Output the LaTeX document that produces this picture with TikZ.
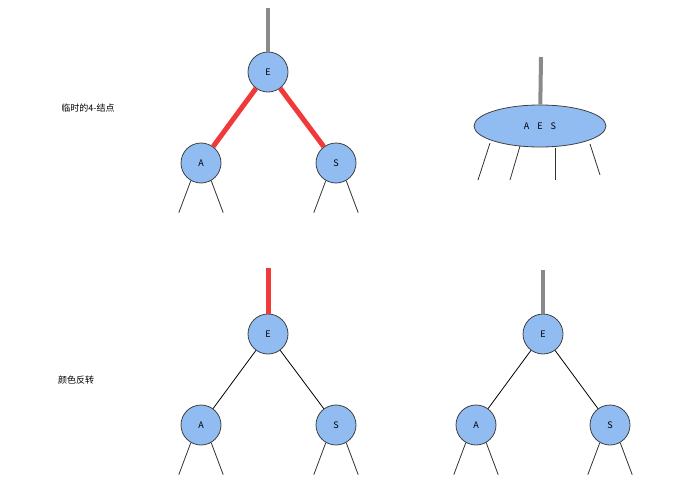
\documentclass[tikz,border=0pt]{standalone}
\usepackage{fontspec}
\setmainfont{Noto Sans CJK SC}
\usetikzlibrary{positioning, shapes.geometric}
\definecolor{nodeblue}{HTML}{90BCF2}
\definecolor{stemgray}{HTML}{8A8A8A}
\definecolor{linkred}{HTML}{F03A3A}
\tikzset{
key/.style={circle, draw=black!75, thick, fill=nodeblue, minimum size=40pt, inner sep=0pt, font=\small},
leg/.style={black!80, thick},
stem/.style={stemgray, line width=4pt},
redlink/.style={linkred, line width=5pt},
blacklink/.style={black, thick},
}
\begin{document}
\begin{tikzpicture}[x=1pt,y=-1pt]
\useasboundingbox (0,0) rectangle (685,495);
% labels
\node (lab1) at (88,108) {\small 临时的4-结点};
\node (lab2) at (76,380) {\small 颜色反转};
% top left
\node[key] (e1) at (268,72) {E};
\node[key] (a1) at (201,163) {A};
\node[key] (s1) at (336,163) {S};
\coordinate (t1) at (268,8);
\draw[stem] (t1) -- (e1);
\draw[redlink] (e1) -- (a1);
\draw[redlink] (e1) -- (s1);
% top right
\node[ellipse, draw=black!75, thick, fill=nodeblue, minimum width=132pt, minimum height=42pt, font=\small] (aes) at (540,126) {A\hspace{8pt}E\hspace{8pt}S};
\coordinate (t2) at (541,57);
\draw[stem] (t2) -- (aes);
\draw[leg] (490,143) -- (478,180);
\draw[leg] (520,146) -- (510,180);
\draw[leg] (555,148) -- (555,180);
\draw[leg] (590,144) -- (600,175);
% bottom left
\node[key] (e2) at (268,334) {E};
\node[key] (a2) at (201,425) {A};
\node[key] (s2) at (336,425) {S};
\coordinate (t3) at (268,268);
\draw[redlink] (t3) -- (e2);
\draw[blacklink] (e2) -- (a2);
\draw[blacklink] (e2) -- (s2);
% bottom right
\node[key] (e3) at (543,334) {E};
\node[key] (a3) at (476,425) {A};
\node[key] (s3) at (610,425) {S};
\coordinate (t4) at (543,270);
\draw[stem] (t4) -- (e3);
\draw[blacklink] (e3) -- (a3);
\draw[blacklink] (e3) -- (s3);
% legs
\foreach \n in {a1, s1, a2, s2, a3, s3} {
  \draw[leg] (\n.-120) -- ++(-12,32);
  \draw[leg] (\n.-60) -- ++(12,32);
}
\end{tikzpicture}
\end{document}
